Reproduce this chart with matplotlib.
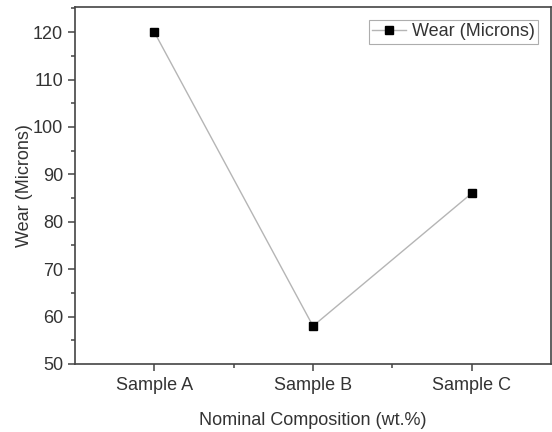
import matplotlib
matplotlib.use('Agg')
import matplotlib.pyplot as plt
from matplotlib.ticker import MultipleLocator

plt.rcParams['font.family'] = ['Liberation Sans', 'DejaVu Sans']

samples = ['Sample A', 'Sample B', 'Sample C']
wear = [120, 58, 86]

fig = plt.figure(figsize=(5.52, 4.32), dpi=100)
ax = fig.add_axes([75/552, 1-364/432, (551-75)/552, (364-7)/432])

x = list(range(len(samples)))
ax.plot(x, wear, color='#b5b5b5', lw=1.0, marker='s', ms=6,
        mfc='black', mec='black', label='Wear (Microns)')

ax.set_xlim(-0.5, 2.5)
ax.set_ylim(50, 125.3)
ax.set_xticks(x)
ax.set_xticklabels(samples)
ax.set_xticks([0.5, 1.5], minor=True)
ax.set_yticks([50, 60, 70, 80, 90, 100, 110, 120])
ax.yaxis.set_minor_locator(MultipleLocator(5))

for s in ax.spines.values():
    s.set_color('#444444')
    s.set_linewidth(1.2)
ax.tick_params(which='both', direction='out', color='#444444', labelcolor='#333333',
               labelsize=13, top=False, right=False)
ax.tick_params(which='major', length=5, width=1.1)
ax.tick_params(which='minor', length=3, width=1.1)
ax.tick_params(axis='x', pad=4)

ax.set_xlabel('Nominal Composition (wt.%)', fontsize=13, color='#333333', labelpad=13)
ax.set_ylabel('Wear (Microns)', fontsize=13, color='#333333', labelpad=0)

leg = ax.legend(loc='upper right', fontsize=13, frameon=True, fancybox=False,
                handlelength=1.9, handletextpad=0.3, borderpad=0.2,
                borderaxespad=0.7, labelcolor='#333333')
leg.get_frame().set_edgecolor('#999999')
leg.get_frame().set_linewidth(0.8)

fig.savefig('out.png', dpi=100)
